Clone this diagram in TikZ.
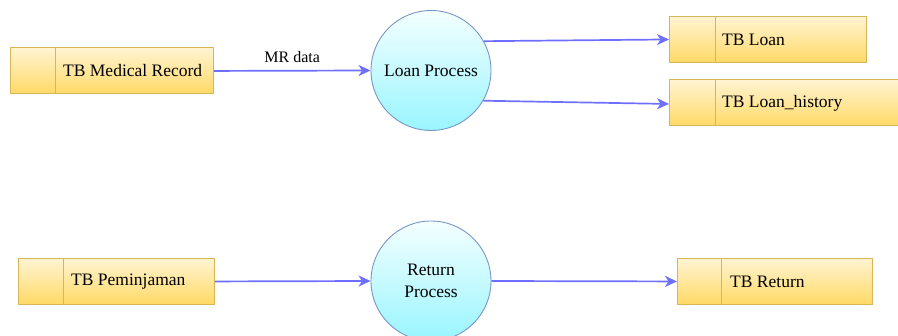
\documentclass[tikz,border=0pt]{standalone}
\usepackage{fontspec}
\setmainfont{Liberation Serif}
\usetikzlibrary{arrows.meta}
\definecolor{boxtop}{HTML}{FFF4D2}
\definecolor{boxbot}{HTML}{FFD966}
\definecolor{boxline}{HTML}{D6B656}
\definecolor{proctop}{HTML}{F4FFFF}
\definecolor{procbot}{HTML}{99F5FF}
\definecolor{procline}{HTML}{7A96C8}
\definecolor{flow}{HTML}{6E6EFF}
\tikzset{
  store/.style={draw=boxline, line width=0.9pt, top color=boxtop, bottom color=boxbot,
    minimum height=46pt, inner sep=0pt, anchor=north west},
  storetext/.style={anchor=west, inner sep=0pt, font=\fontsize{17.5}{21}\selectfont},
  divider/.style={draw=boxline, line width=0.9pt},
  proc/.style={circle, draw=procline, line width=0.9pt, top color=proctop, bottom color=procbot,
    minimum size=120pt, inner sep=0pt, align=center, font=\fontsize{17.5}{22}\selectfont},
  flowline/.style={draw=flow, line width=1.7pt, -{Stealth[length=12pt,width=11pt,inset=3.5pt]}},
  flowlabel/.style={inner sep=0pt, font=\fontsize{16}{19}\selectfont}
}
\begin{document}
\begin{tikzpicture}[x=1pt,y=-1pt]
\useasboundingbox (0,0) rectangle (898,336);
% stores
\node[store, minimum width=203pt] (mr) at (10,47.5) {};
\draw[divider] ([xshift=45.5pt]mr.north west) -- ([xshift=45.5pt]mr.south west);
\node[storetext] (mrt) at ([xshift=53pt]mr.west) {TB Medical Record};

\node[store, minimum width=197pt] (loan) at (669,16) {};
\draw[divider] ([xshift=46pt]loan.north west) -- ([xshift=46pt]loan.south west);
\node[storetext] (loant) at ([xshift=53pt]loan.west) {TB Loan};

\node[store, minimum width=240pt] (hist) at (669,79.5) {};
\draw[divider] ([xshift=46pt]hist.north west) -- ([xshift=46pt]hist.south west);
\node[storetext] (histt) at ([xshift=53pt]hist.west) {TB Loan\_history};

\node[store, minimum width=196pt] (pem) at (18,258) {};
\draw[divider] ([xshift=45pt]pem.north west) -- ([xshift=45pt]pem.south west);
\node[storetext] (pemt) at ([xshift=53pt]pem.west) {TB Peminjaman};

\node[store, minimum width=195pt] (ret) at (677,258) {};
\draw[divider] ([xshift=44pt]ret.north west) -- ([xshift=44pt]ret.south west);
\node[storetext] (rett) at ([xshift=53pt]ret.west) {TB Return};

% processes
\node[proc] (lp) at (431,70.5) {Loan Process};
\node[proc] (rp) at (431,281) {Return\\Process};

% flows
\draw[flowline] (mr.east) -- node[flowlabel, above=7pt] (mrl) {MR data} (lp.west);
\draw[flowline] (lp.29.4) -- (loan.west);
\draw[flowline] (lp.-30.6) -- ([yshift=-1pt]hist.west);
\draw[flowline] (pem.east) -- (rp.west);
\draw[flowline] (rp.east) -- (ret.west);
\end{tikzpicture}
\end{document}
